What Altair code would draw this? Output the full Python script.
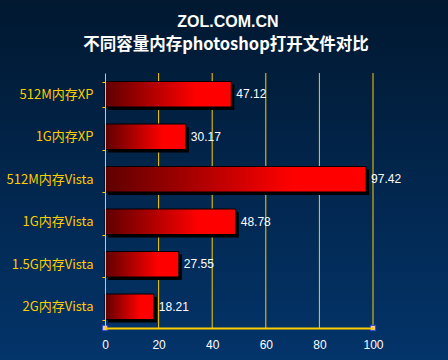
import altair as alt
import pandas as pd

categories = ["512M内存XP", "1G内存XP", "512M内存Vista", "1G内存Vista", "1.5G内存Vista", "2G内存Vista"]
values = [47.12, 30.17, 97.42, 48.78, 27.55, 18.21]
grid_ticks = [20, 40, 60, 80, 100]
corner_ticks = [0, 100]
title_lines = ["ZOL.COM.CN"]
subtitle_lines = ["不同容量内存photoshop打开文件对比"]

df = pd.DataFrame({"cat": categories, "val": values})
grid_df = pd.DataFrame({"g": grid_ticks})
corner_df = pd.DataFrame({"c": corner_ticks})
bg_df = pd.DataFrame({"b": [0]})
t_df = pd.DataFrame({"t": title_lines})
s_df = pd.DataFrame({"t": subtitle_lines})

W, H = 268, 255
YELLOW = "#ffcc00"

xscale = alt.Scale(domain=[0, 100], nice=False)
yscale = alt.Scale(paddingInner=0.4, paddingOuter=0.2)

bg = alt.Chart(bg_df).mark_rect(
    fill=alt.Gradient(
        gradient="linear", x1=0, y1=0, x2=0, y2=1,
        stops=[alt.GradientStop(color="#011830", offset=0),
               alt.GradientStop(color="#03346a", offset=1)],
    )
).encode(
    x=alt.value(-105), x2=alt.value(343), y=alt.value(-73), y2=alt.value(287)
)

title1 = alt.Chart(t_df).mark_text(
    font="Liberation Sans", fontSize=16, fontWeight="bold", color="white",
    align="center", baseline="middle",
).encode(text="t:N", x=alt.value(123), y=alt.value(-51))

title2 = alt.Chart(s_df).mark_text(
    font="Noto Sans CJK SC", fontSize=16.5, fontWeight="bold", color="white",
    align="center", baseline="middle",
).encode(text="t:N", x=alt.value(121), y=alt.value(-28))

grid = alt.Chart(grid_df).mark_rule(color=YELLOW, strokeWidth=1).encode(
    x=alt.X("g:Q", scale=xscale),
    y=alt.value(0), y2=alt.value(H),
)

shadow = alt.Chart(df).mark_bar(color="black", xOffset=3, yOffset=3).encode(
    y=alt.Y("cat:N", sort=categories, scale=yscale),
    x=alt.X("val:Q", scale=xscale),
)

bars = alt.Chart(df).mark_bar(
    stroke="black", strokeWidth=1,
    fill=alt.Gradient(
        gradient="linear", x1=0, y1=0, x2=1, y2=0,
        stops=[alt.GradientStop(color="#5e0000", offset=0),
               alt.GradientStop(color="#ff0000", offset=0.72),
               alt.GradientStop(color="#ff0000", offset=1)],
    ),
).encode(
    y=alt.Y("cat:N", sort=categories, scale=yscale,
            axis=alt.Axis(title=None, labelColor=YELLOW, labelFont="Noto Sans CJK SC",
                          labelFontSize=13, domainColor=YELLOW, domainWidth=1,
                          tickColor=YELLOW, tickSize=3, tickBand="extent",
                          labelPadding=9, zindex=1)),
    x=alt.X("val:Q", scale=xscale,
            axis=alt.Axis(title=None, values=[0, 20, 40, 60, 80, 100], labelColor="white",
                          labelFont="Liberation Sans", labelFontSize=12, labelFlush=False,
                          domainColor=YELLOW, domainWidth=2, ticks=False, grid=False,
                          labelPadding=11, zindex=1)),
)

labels = alt.Chart(df).mark_text(
    align="left", baseline="middle", dx=5, color="white",
    font="Liberation Sans", fontSize=12,
).encode(
    y=alt.Y("cat:N", sort=categories, scale=yscale),
    x=alt.X("val:Q", scale=xscale),
    text=alt.Text("val:Q", format=".2f"),
)

corners = alt.Chart(corner_df).mark_square(
    size=30, fill="#f2c89b", opacity=1, stroke="#1a3cc8", strokeWidth=1
).encode(
    x=alt.X("c:Q", scale=xscale),
    y=alt.value(H),
)

chart = alt.layer(bg, title1, title2, grid, shadow, bars, labels, corners).properties(
    width=W, height=H,
    autosize=alt.AutoSizeParams(type="none"),
    padding={"left": 105, "top": 73, "right": 75, "bottom": 32},
).configure_view(stroke=None).configure(background="#011830")

chart.save("out.html", embed_options={"renderer": "svg", "actions": False})
